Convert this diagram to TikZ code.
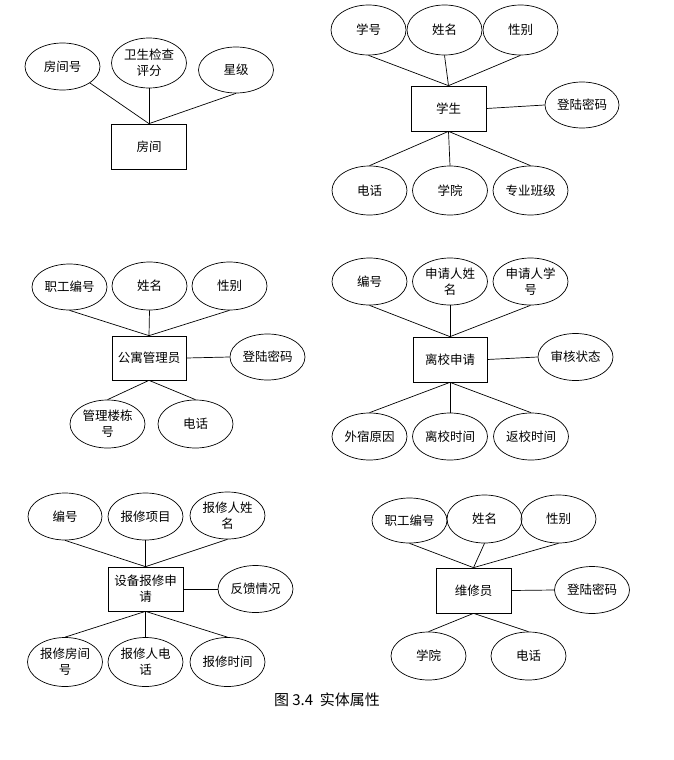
\documentclass[tikz,border=0pt]{standalone}
\usepackage{fontspec}
\newfontfamily\cjk{Noto Sans CJK SC}
\usetikzlibrary{shapes.geometric}
\begin{document}
\begin{tikzpicture}[x=1pt,y=-1pt,
  attr/.style={draw, ellipse, line width=0.7pt, minimum width=75pt, minimum height=47pt, inner sep=0pt, align=center, font=\cjk\fontsize{12.5}{16}\selectfont},
  ent/.style={draw, rectangle, line width=0.7pt, minimum width=75pt, minimum height=45pt, inner sep=0pt, align=center, font=\cjk\fontsize{12.5}{16}\selectfont},
  link/.style={line width=0.7pt}]
\useasboundingbox[fill=white] (0,0) rectangle (673,760);

% Diagram 1
\node[ent] (r1) at (149,146.5) {房间};
\node[attr] (a11) at (62.5,66.5) {房间号};
\node[attr, minimum height=50pt] (a12) at (149,63) {卫生检查\\评分};
\node[attr, minimum height=46pt] (a13) at (236,70) {星级};
\draw[link] (a11.-31) -- (r1.north);
\draw[link] (a12.south) -- (r1.north);
\draw[link] (a13.south) -- (r1.north);

% Diagram 2
\node[ent] (r2) at (448.5,108.5) {学生};
\node[attr, minimum height=50pt] (a21) at (368.5,30) {学号};
\node[attr, minimum height=50pt] (a22) at (444.5,30) {姓名};
\node[attr, minimum height=50pt] (a23) at (520.5,30) {性别};
\node[attr, minimum width=74pt, minimum height=46pt] (a24) at (582,105) {登陆密码};
\node[attr, minimum height=49pt] (a25) at (369.5,190.5) {电话};
\node[attr, minimum height=49pt] (a26) at (450,190.5) {学院};
\node[attr, minimum height=49pt] (a27) at (530.5,190.5) {专业班级};
\draw[link] (a21.south) -- (r2.north);
\draw[link] (a22.south) -- (r2.north);
\draw[link] (a23.south) -- (r2.north);
\draw[link] (r2.east) -- (a24.west);
\draw[link] (r2.south) -- (a25.north);
\draw[link] (r2.south) -- (a26.north);
\draw[link] (r2.south) -- (a27.north);

% Diagram 3
\node[ent, minimum width=74pt, minimum height=44pt] (r3) at (149,358) {公寓管理员};
\node[attr, minimum height=46pt] (a31) at (69.5,287) {职工编号};
\node[attr, minimum height=48pt] (a32) at (149.5,286) {姓名};
\node[attr, minimum height=48pt] (a33) at (229.5,286) {性别};
\node[attr, minimum height=46pt] (a34) at (267.5,357) {登陆密码};
\node[attr, minimum height=48pt] (a35) at (107.5,424) {管理楼栋\\号};
\node[attr, minimum height=48pt] (a36) at (195.5,424) {电话};
\draw[link] (a31.south) -- (r3.north);
\draw[link] (a32.south) -- (r3.north);
\draw[link] (a33.south) -- (r3.north);
\draw[link] (r3.east) -- (a34.west);
\draw[link] (r3.south) -- (a35.north);
\draw[link] (r3.south) -- (a36.north);

% Diagram 4
\node[ent, minimum width=74pt] (r4) at (450,359.5) {离校申请};
\node[attr] (a41) at (369.5,281.5) {编号};
\node[attr] (a42) at (450,281.5) {申请人姓\\名};
\node[attr] (a43) at (530.5,281.5) {申请人学\\号};
\node[attr] (a44) at (575.5,357) {审核状态};
\node[attr] (a45) at (369.5,436.5) {外宿原因};
\node[attr] (a46) at (450,436.5) {离校时间};
\node[attr] (a47) at (531,436.5) {返校时间};
\draw[link] (a41.south) -- (r4.north);
\draw[link] (a42.south) -- (r4.north);
\draw[link] (a43.south) -- (r4.north);
\draw[link] (r4.east) -- (a44.west);
\draw[link] (r4.south) -- (a45.north);
\draw[link] (r4.south) -- (a46.north);
\draw[link] (r4.south) -- (a47.north);

% Diagram 5
\node[ent, minimum height=44pt] (r5) at (145.5,589) {设备报修申\\请};
\node[attr, minimum width=74pt] (a51) at (65,516.5) {编号};
\node[attr] (a52) at (145.5,516.5) {报修项目};
\node[attr] (a53) at (227.5,515.5) {报修人姓\\名};
\node[attr] (a54) at (255.5,589) {反馈情况};
\node[attr, minimum height=49pt] (a55) at (65,662) {报修房间\\号};
\node[attr, minimum height=49pt] (a56) at (145.5,662) {报修人电\\话};
\node[attr, minimum height=49pt] (a57) at (227.5,662) {报修时间};
\draw[link] (a51.south) -- (r5.north);
\draw[link] (a52.south) -- (r5.north);
\draw[link] (a53.south) -- (r5.north);
\draw[link] (r5.east) -- (a54.west);
\draw[link] (r5.south) -- (a55.north);
\draw[link] (r5.south) -- (a56.north);
\draw[link] (r5.south) -- (a57.north);

% Diagram 6
\node[ent] (r6) at (473.5,590.5) {维修员};
\node[attr, minimum height=45pt] (a61) at (409.5,520.5) {职工编号};
\node[attr, minimum height=48pt] (a62) at (484.5,519) {姓名};
\node[attr, minimum height=48pt] (a63) at (558.5,519) {性别};
\node[attr] (a64) at (592,590) {登陆密码};
\node[attr, minimum height=48pt] (a65) at (428.5,656) {学院};
\node[attr, minimum height=48pt] (a66) at (528.5,656) {电话};
\draw[link] (a61.south) -- (r6.north);
\draw[link] (a62.south) -- (r6.north);
\draw[link] (a63.south) -- (r6.north);
\draw[link] (r6.east) -- (a64.west);
\draw[link] (r6.south) -- (a65.north);
\draw[link] (r6.south) -- (a66.north);

% Caption
\node[font=\cjk\fontsize{15}{17}\selectfont] (cap) at (327,700) {图 3.4\ \ 实体属性};
\end{tikzpicture}
\end{document}
